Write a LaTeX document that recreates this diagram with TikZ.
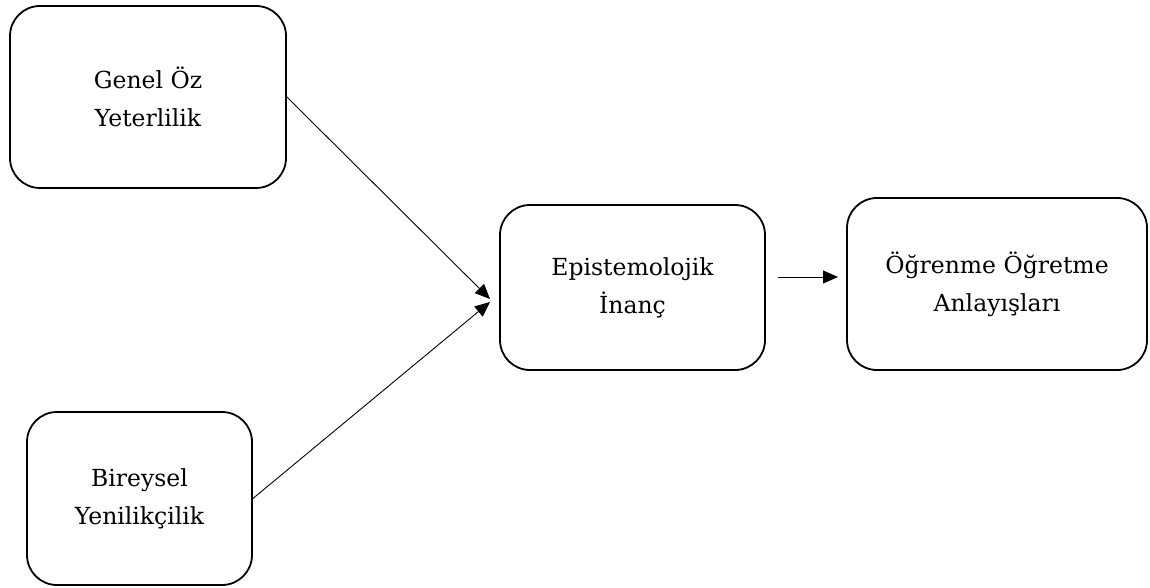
\documentclass[tikz,border=0pt]{standalone}
\usepackage{fontspec}
\setmainfont{DejaVu Serif}
\usetikzlibrary{arrows.meta}
\begin{document}
\begin{tikzpicture}[x=1pt,y=-1pt,
  box/.style={draw, line width=1.8pt, rounded corners=30pt, align=center, inner sep=0pt,
    font=\fontsize{23.5}{38}\selectfont},
  conn/.style={line width=0.9pt, -{Triangle[length=15pt,width=13pt]}}]
\useasboundingbox (0,0) rectangle (1150,588);
\node[box, minimum width=276pt, minimum height=182pt] (genel) at (148,97) {Genel Öz\\Yeterlilik};
\node[box, minimum width=225pt, minimum height=173pt] (bireysel) at (139.5,498.5) {Bireysel\\Yenilikçilik};
\node[box, minimum width=265pt, minimum height=165pt] (epis) at (632.5,287.5) {Epistemolojik\\İnanç};
\node[box, minimum width=300pt, minimum height=172pt] (ogr) at (997,284) {Öğrenme Öğretme\\Anlayışları};
\coordinate (t1) at (490,299);
\coordinate (t2) at (490,302);
\coordinate (s3) at (778,277);
\coordinate (t3) at (838,277);
\draw[conn] (genel.east) -- (t1);
\draw[conn] (bireysel.east) -- (t2);
\draw[conn] (s3) -- (t3);
\end{tikzpicture}
\end{document}
